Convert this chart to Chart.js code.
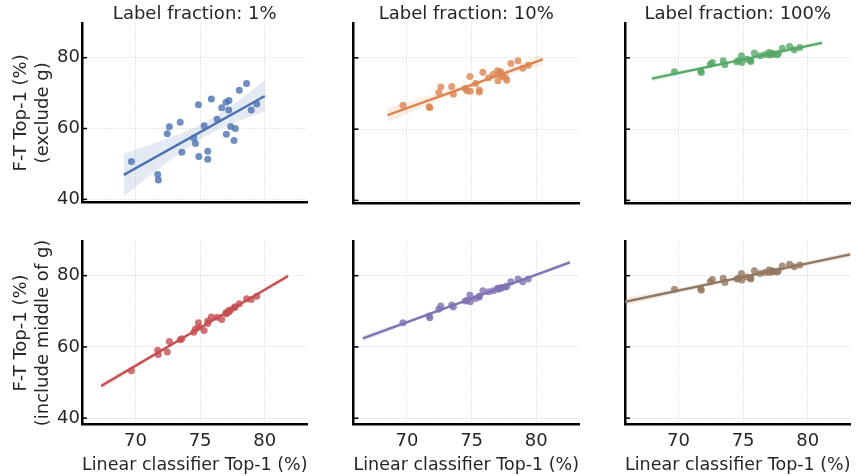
<!DOCTYPE html>
<html><head><meta charset="utf-8">
<script src="https://cdn.jsdelivr.net/npm/chart.js@4"></script>
<style>
html,body{margin:0;padding:0;background:#fff;}
#fig{position:relative;width:860px;height:476px;overflow:hidden;background:#fff;}
#fig canvas{position:absolute;}
</style></head><body><div id="fig"></div>
<script>
// ---- data ----
const linearTop1 = [69.69, 71.72, 71.77, 72.46, 72.62, 73.46, 73.59, 74.51, 74.64, 74.87, 74.90, 75.31, 75.59, 75.59, 75.87, 76.31, 76.67, 77.00, 77.23, 77.21, 77.03, 77.36, 77.72, 77.62, 78.03, 78.59, 78.95, 79.38];
const ftExclude1   = [50.7, 47.0, 45.5, 58.5, 60.5, 61.8, 53.3, 57.3, 55.8, 66.7, 52.1, 60.8, 53.6, 51.3, 68.3, 62.6, 65.9, 67.4, 67.9, 65.2, 58.4, 60.6, 60.0, 56.6, 70.8, 72.7, 65.2, 66.9];
const ftExclude10  = [66.7, 66.3, 66.0, 70.3, 71.8, 72.0, 69.8, 71.4, 70.8, 74.8, 70.6, 72.8, 71.0, 70.4, 76.0, 74.4, 75.4, 76.4, 76.2, 75.4, 73.6, 74.8, 73.7, 74.5, 78.4, 79.2, 77.1, 77.9];
const ftExclude100 = [76.1, 76.3, 75.9, 78.2, 78.7, 79.2, 78.1, 78.9, 79.2, 80.6, 78.7, 79.6, 79.2, 79.0, 81.4, 80.6, 80.9, 81.5, 81.3, 81.0, 80.8, 81.1, 81.2, 80.9, 82.7, 83.2, 82.3, 82.9];
const ftInclude1   = [53.3, 59.1, 57.9, 58.6, 61.5, 62.0, 62.3, 64.1, 65.0, 66.8, 65.5, 64.6, 67.3, 66.6, 68.4, 68.3, 67.7, 69.6, 70.2, 69.8, 69.3, 70.4, 71.3, 71.0, 72.1, 73.5, 73.3, 74.2];
const ftInclude10  = [66.8, 68.7, 68.2, 70.6, 71.5, 71.8, 71.2, 72.9, 73.0, 74.6, 72.7, 73.6, 74.2, 74.0, 75.8, 75.5, 75.8, 76.5, 76.6, 76.4, 76.2, 76.7, 77.0, 76.8, 78.3, 79.1, 78.3, 79.1];
const ftInclude100 = [76.2, 76.3, 75.9, 78.3, 78.9, 79.3, 78.1, 79.1, 79.3, 80.6, 78.8, 79.6, 79.3, 79.1, 81.4, 80.6, 80.9, 81.6, 81.4, 81.1, 80.9, 81.2, 81.3, 81.0, 82.7, 83.2, 82.5, 83.0];
// x extent of each fitted line as drawn in the reference
const fitSpanStart = [69.1, 68.5, 67.95, 67.35, 66.6, 65.87];
const fitSpanEnd   = [80.0, 80.5, 81.1, 81.8, 82.6, 83.3];
const columnTitles = ['Label fraction: 1%', 'Label fraction: 10%', 'Label fraction: 100%'];
const rowTitles = [['F-T Top-1 (%)', '(exclude g)'], ['F-T Top-1 (%)', '(include middle of g)']];
const xTickValues = [70, 75, 80];
const yTickValues = [40, 60, 80];
const xAxisTitle = 'Linear classifier Top-1 (%)';

// ---- styles / layout ----
const palette = ['#4C72B0', '#DD8452', '#55A868', '#C44E52', '#8172B3', '#937860'];
const panelSeries = [ftExclude1, ftExclude10, ftExclude100, ftInclude1, ftInclude10, ftInclude100];
const X_MIN = 65.87, X_MAX = 83.3, Y_MAX = 89.65;
const rowYMin = [39.2, 38.2];
const PX_PER_Y = 3.5625;
const colLeft = [82, 353.5, 625], panelW = 225.5;
const rowTop = [23.5, 241.3];
const canvasX = [[0, 315], [330, 586], [600, 860]];
const canvasY = [[0, 215], [225, 476]];
const TEXT = '#262626';
const FONT = 'DejaVu Sans';
Chart.defaults.font.family = FONT;

function rgba(hex, a) {
  const n = parseInt(hex.slice(1), 16);
  return `rgba(${(n >> 16) & 255},${(n >> 8) & 255},${n & 255},${a})`;
}
function fitLine(xs, ys) {
  const n = xs.length;
  const mx = xs.reduce((s, v) => s + v, 0) / n;
  const my = ys.reduce((s, v) => s + v, 0) / n;
  let sxx = 0, sxy = 0;
  for (let i = 0; i < n; i++) { sxx += (xs[i] - mx) ** 2; sxy += (xs[i] - mx) * (ys[i] - my); }
  const b = sxy / sxx, a = my - b * mx;
  let sse = 0;
  for (let i = 0; i < n; i++) sse += (ys[i] - a - b * xs[i]) ** 2;
  const s = Math.sqrt(sse / (n - 2));
  return {a, b, mx, sxx, s, n};
}

const inwardTicks = {
  id: 'inwardTicks',
  afterDatasetsDraw(chart) {
    const ctx = chart.ctx, ys = chart.scales.y, area = chart.chartArea;
    ctx.save();
    ctx.strokeStyle = '#000';
    ctx.lineWidth = 1.5;
    yTickValues.forEach(v => {
      const p = ys.getPixelForValue(v);
      ctx.beginPath(); ctx.moveTo(area.left, p); ctx.lineTo(area.left + 5, p); ctx.stroke();
    });
    ctx.restore();
  }
};

const fig = document.getElementById('fig');
for (let r = 0; r < 2; r++) {
  for (let c = 0; c < 3; c++) {
    const k = r * 3 + c;
    const ys = panelSeries[k];
    const color = palette[k];
    const [cx0, cx1] = canvasX[c];
    const [cy0, cy1] = canvasY[r];
    const cv = document.createElement('canvas');
    cv.width = cx1 - cx0; cv.height = cy1 - cy0;
    cv.style.left = cx0 + 'px'; cv.style.top = cy0 + 'px';
    fig.appendChild(cv);

    const f = fitLine(linearTop1, ys);
    const t = 2.056;
    const x0 = fitSpanStart[k], x1 = fitSpanEnd[k];
    const lineData = [x0, x1].map(x => ({x, y: f.a + f.b * x}));
    const lower = [], upper = [];
    const steps = 40;
    for (let i = 0; i <= steps; i++) {
      const x = x0 + (x1 - x0) * i / steps;
      const yh = f.a + f.b * x;
      const h = t * f.s * Math.sqrt(1 / f.n + (x - f.mx) ** 2 / f.sxx);
      lower.push({x, y: yh - h}); upper.push({x, y: yh + h});
    }
    const points = linearTop1.map((x, i) => ({x, y: ys[i]}));

    const yMin = rowYMin[r];
    const panelH = (Y_MAX - yMin) * PX_PER_Y;
    const yAxisWidth = colLeft[c] - cx0;
    const padRight = cx1 - (colLeft[c] + panelW);
    const chartBottom = rowTop[r] + panelH;
    const xAxisHeight = cy1 - chartBottom;
    const padTop = r === 0 ? 0 : rowTop[r] - cy0;

    new Chart(cv, {
      type: 'scatter',
      data: {
        datasets: [
          {data: lower, showLine: true, pointRadius: 0, borderWidth: 0, borderColor: 'rgba(0,0,0,0)', fill: false, order: 4},
          {data: upper, showLine: true, pointRadius: 0, borderWidth: 0, borderColor: 'rgba(0,0,0,0)', fill: '-1', backgroundColor: rgba(color, 0.15), order: 3},
          {data: points, showLine: false, pointRadius: 3.5, pointBorderWidth: 0, backgroundColor: rgba(color, 0.8), pointBackgroundColor: rgba(color, 0.8), order: 2},
          {data: lineData, showLine: true, pointRadius: 0, borderWidth: 2.4, borderColor: color, fill: false, order: 1}
        ]
      },
      options: {
        responsive: false, animation: false, devicePixelRatio: 1,
        layout: {padding: {left: 0, right: padRight, top: padTop, bottom: 0}},
        plugins: {
          legend: {display: false}, tooltip: {enabled: false},
          title: {
            display: r === 0, fullSize: false, text: columnTitles[c], color: TEXT,
            font: {family: FONT, size: 18, weight: 'normal', lineHeight: 1.0},
            padding: {top: 5.5, bottom: 0}
          }
        },
        scales: {
          x: {
            type: 'linear', position: 'bottom', min: X_MIN, max: X_MAX,
            afterBuildTicks: s => { s.ticks = xTickValues.map(v => ({value: v})); },
            afterFit: s => { s.height = xAxisHeight; },
            ticks: {display: r === 1, color: TEXT, font: {size: 18}, padding: 6.2, maxRotation: 0},
            grid: {color: '#d0d0d0', lineWidth: 1, drawTicks: false},
            border: {color: '#000', width: 2.5, dash: [1, 2]},
            title: {display: r === 1, text: xAxisTitle, color: TEXT, font: {size: 18}, padding: {top: 0, bottom: 0}}
          },
          y: {
            type: 'linear', position: 'left', min: yMin, max: Y_MAX,
            afterBuildTicks: s => { s.ticks = yTickValues.map(v => ({value: v})); },
            afterFit: s => { s.width = yAxisWidth; },
            ticks: {display: c === 0, color: TEXT, font: {size: 18}, padding: 2},
            grid: {color: '#d0d0d0', lineWidth: 1, drawTicks: false},
            border: {color: '#000', width: 2.5, dash: [1, 2]},
            title: {display: c === 0, text: rowTitles[r], color: TEXT, font: {size: 18}, padding: {top: 11, bottom: 0}}
          }
        }
      },
      plugins: [inwardTicks]
    });
  }
}
</script></body></html>
